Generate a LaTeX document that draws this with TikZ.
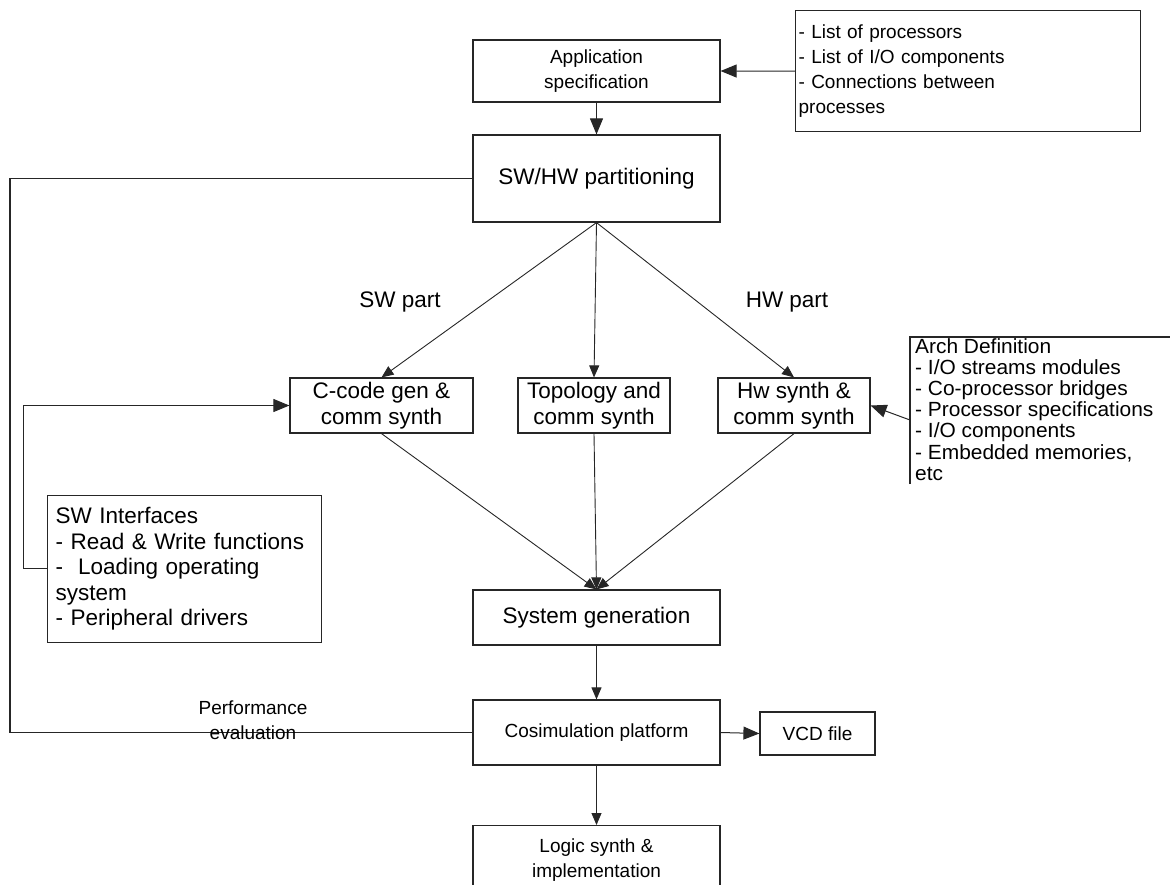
\documentclass[tikz,border=0pt]{standalone}
\usepackage{fontspec}
\setmainfont{Liberation Sans}
\newfontfamily\archfont[FakeStretch=1.02]{Liberation Sans}
\usetikzlibrary{arrows.meta,calc}
\begin{document}
\begin{tikzpicture}[x=1pt,y=-1pt,
  box/.style={draw=black!85, line width=1.2pt, inner sep=0pt, align=center, text=black},
  big/.style={font=\fontsize{22.5}{25.5}\selectfont},
  small/.style={font=\fontsize{19}{25}\selectfont},
  archtext/.style={font=\archfont\fontsize{20.5}{21.2}\selectfont},
  flow/.style={draw=black!85, line width=1pt, -{Triangle[length=16pt,width=13pt]}},
  thinflow/.style={draw=black!85, line width=0.9pt, -{Triangle[length=12pt,width=10pt]}},
  link/.style={draw=black!85, line width=1.1pt},
]
\useasboundingbox (0,0) rectangle (1170,884);
\clip (0,0) rectangle (1170,884);

% main flow boxes
\node[box,small,minimum width=247pt,minimum height=62pt] (app) at (596.5,71) {Application\\specification};
\node[box,small,align=left,anchor=north west,text width=339pt,inner xsep=3pt,minimum height=121pt] (list) at (795,10)
  {- List of processors\\- List of I/O components\\- Connections between\\processes};
\node[box,big,minimum width=247pt,minimum height=87pt] (part) at (596.5,178.5) {SW/HW partitioning};

\node[box,big,minimum width=183pt,minimum height=55pt] (ccode) at (381.5,405.5) {C-code gen \&\\comm synth};
\node[box,big,minimum width=152pt,minimum height=55pt] (topo) at (594,405.5) {Topology and\\comm synth};
\node[box,big,minimum width=152pt,minimum height=55pt] (hw) at (794,405.5) {Hw synth \&\\comm synth};

% architecture definition (box runs past the right edge)
\node[archtext,align=left,anchor=north west,inner xsep=5pt,inner ysep=0pt] (arch) at (910,338)
  {Arch Definition\\- I/O streams modules\\- Co-processor bridges\\- Processor specifications\\- I/O components\\- Embedded memories,\\etc};
\draw[line width=1.2pt,black!85] (910,484) -- (910,337) -- (1175,337);
\coordinate (archin) at (910,420);

% software interfaces
\node[box,big,align=left,anchor=north west,text width=258pt,inner xsep=8pt,minimum height=147pt] (swi) at (47,495)
  {SW Interfaces\\- Read \& Write functions\\-~ Loading operating\\system\\- Peripheral drivers};
\coordinate (swiout) at (47,568);

\node[box,big,minimum width=247pt,minimum height=55pt] (sysgen) at (596.5,617.5) {System generation};
\node[box,small,minimum width=247pt,minimum height=65pt] (cosim) at (596.5,732.5) {Cosimulation platform};
\node[box,small,minimum width=115pt,minimum height=43pt] (vcd) at (817.5,733.5) {VCD file};
\node[box,small,anchor=north,minimum width=247pt,minimum height=69pt] (logic) at (596.5,825) {Logic synth \&\\implementation};

% labels
\node[big] (swlab) at (400,302) {SW part};
\node[big] (hwlab) at (787,302) {HW part};

% connectors
\draw[flow] (list.west) -- (app.east);
\draw[flow] (app.south) -- (part.north);
\draw[thinflow] (part.south) -- (ccode.north);
\draw[thinflow] (part.south) -- (topo.north);
\draw[thinflow] (part.south) -- (hw.north);
\draw[flow] (archin) -- (hw.east);
\draw[flow] (swiout) -- (23,568) |- (ccode.west);
\draw[thinflow] (ccode.south) -- (sysgen.north);
\draw[thinflow] (topo.south) -- (sysgen.north);
\draw[thinflow] (hw.south) -- (sysgen.north);
\draw[thinflow] (sysgen.south) -- (cosim.north);
\draw[flow] (cosim.east) -- (vcd.west);
\draw[thinflow] (cosim.south) -- (logic.north);
\draw[link] (part.west) -- (10,178.5) |- (cosim.west);
\node[small,align=center] (perf) at (253,720) {Performance\\evaluation};
\end{tikzpicture}
\end{document}
